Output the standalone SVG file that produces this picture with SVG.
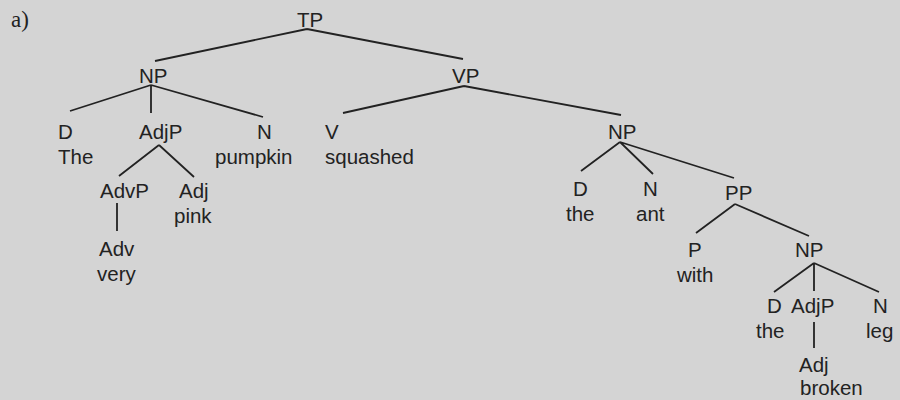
<svg xmlns="http://www.w3.org/2000/svg" width="900" height="400" viewBox="0 0 900 400">
  <style>
    .lbl { font-family: "Liberation Sans", Arial, Helvetica, sans-serif; font-size: 20.5px; fill: #222; }
    .tag { font-family: "Liberation Serif", "Times New Roman", serif; font-size: 23px; fill: #222; }
    .edge { stroke: #222; stroke-width: 1.8; fill: none; stroke-linecap: butt; }
  </style>
  <rect x="0" y="0" width="900" height="400" fill="#d4d4d4"/>
  <text class="tag" x="11" y="27">a)</text>

  <!-- branches -->
  <g id="connectors">
    <path class="edge" d="M307 29 L155 61 M307 29 L463 59"/>
    <path class="edge" d="M151 85 L70 111 M151 85 L151 113 M151 85 L263 117"/>
    <path class="edge" d="M159 145 L119 176 M159 145 L194 177"/>
    <path class="edge" d="M117 203 L117 231"/>
    <path class="edge" d="M464 86 L343 113 M464 86 L621 115"/>
    <path class="edge" d="M620 142 L581 171 M620 142 L653 174 M620 142 L734 178"/>
    <path class="edge" d="M735 204 L696 233 M735 204 L809 236"/>
    <path class="edge" d="M814 263 L774 292 M814 263 L814 291 M814 263 L879 292"/>
    <path class="edge" d="M814 322 L814 348"/>
  </g>

  <g id="tp"><text class="lbl" x="297" y="27">TP</text></g>
  <g id="np-subj"><text class="lbl" x="139" y="83">NP</text></g>
  <g id="d-the"><text class="lbl" x="58" y="139">D</text><text class="lbl" x="58" y="164">The</text></g>
  <g id="adjp-pink"><text class="lbl" x="139" y="139">AdjP</text></g>
  <g id="n-pumpkin"><text class="lbl" x="257" y="139">N</text><text class="lbl" x="215" y="164">pumpkin</text></g>
  <g id="advp"><text class="lbl" x="100" y="198">AdvP</text></g>
  <g id="adj-pink"><text class="lbl" x="179" y="198">Adj</text><text class="lbl" x="174" y="223">pink</text></g>
  <g id="adv-very"><text class="lbl" x="99" y="256">Adv</text><text class="lbl" x="97" y="281">very</text></g>

  <g id="vp"><text class="lbl" x="452" y="83">VP</text></g>
  <g id="v-squashed"><text class="lbl" x="325" y="139">V</text><text class="lbl" x="325" y="164">squashed</text></g>
  <g id="np-obj"><text class="lbl" x="608" y="139">NP</text></g>
  <g id="d-the-obj"><text class="lbl" x="573" y="196">D</text><text class="lbl" x="566" y="221">the</text></g>
  <g id="n-ant"><text class="lbl" x="643" y="196">N</text><text class="lbl" x="636" y="221">ant</text></g>
  <g id="pp"><text class="lbl" x="725" y="200">PP</text></g>
  <g id="p-with"><text class="lbl" x="688" y="257">P</text><text class="lbl" x="677" y="282">with</text></g>
  <g id="np-leg"><text class="lbl" x="795" y="257">NP</text></g>
  <g id="d-the-leg"><text class="lbl" x="767" y="313">D</text><text class="lbl" x="756" y="338">the</text></g>
  <g id="adjp-broken"><text class="lbl" x="791" y="313">AdjP</text></g>
  <g id="n-leg"><text class="lbl" x="873" y="313">N</text><text class="lbl" x="866" y="338">leg</text></g>
  <g id="adj-broken"><text class="lbl" x="799" y="372">Adj</text><text class="lbl" x="800" y="395">broken</text></g>
</svg>
